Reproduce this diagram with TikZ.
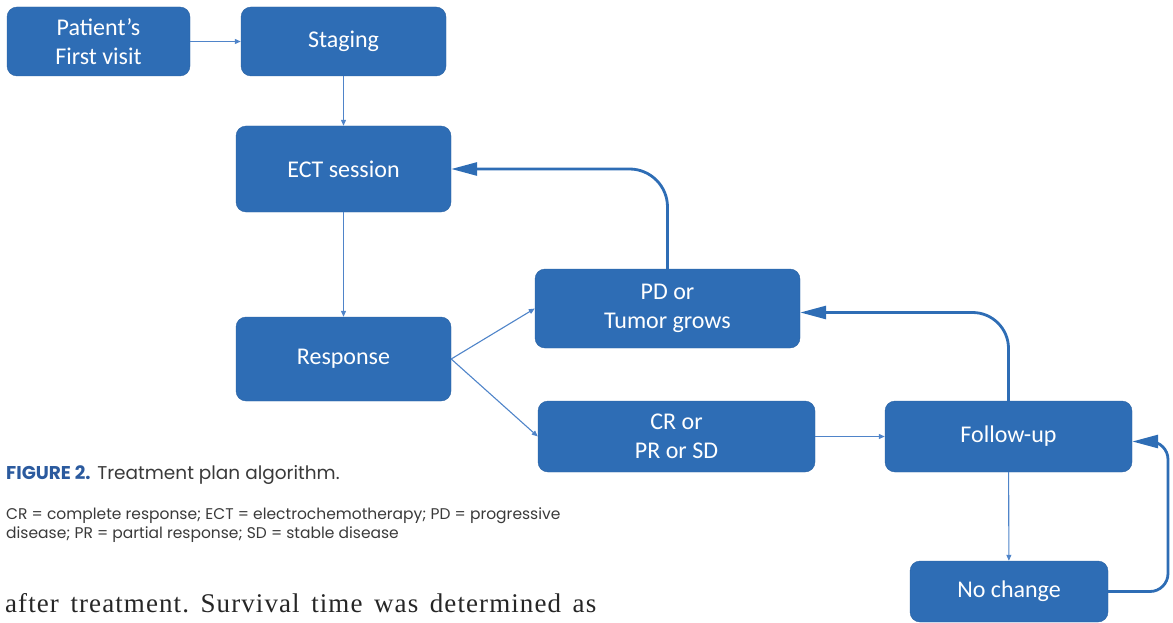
\documentclass[tikz,border=0pt]{standalone}
\usepackage{fontspec}
\setmainfont{Carlito}
\newfontfamily\capfont{Poppins}
\newfontfamily\bodyfont[LetterSpace=4]{Liberation Serif}
\usepackage{tikz}
\usetikzlibrary{arrows.meta, positioning}
\definecolor{boxblue}{HTML}{2E6DB5}
\definecolor{boxedge}{HTML}{2A62A3}
\definecolor{linkblue}{HTML}{4F84C9}
\definecolor{capblue}{HTML}{2B5A9E}
\definecolor{capgray}{HTML}{3A3A3A}
\tikzset{>={Triangle[length=6pt,width=5pt]}}
\tikzset{
	stepbox/.style={draw=boxedge, fill=boxblue, rounded corners=10pt, text=white, align=center,
		font=\fontsize{24}{29}\selectfont, inner sep=0pt},
	link/.style={->, draw=linkblue, line width=1.1pt},
	back/.style={-{Triangle[length=26pt,width=13pt]}, draw=boxblue, line width=2.8pt}
}

\begin{document}
\begin{tikzpicture}[x=1pt, y=-1pt]
	\useasboundingbox (0,0) rectangle (1173,623);

    \node[stepbox, minimum width=183pt, minimum height=69pt]	(first) 	at 	(98.5,41.5)  	{Patient’s\\First visit};
    \node[stepbox, minimum width=205pt, minimum height=69pt]	(staging)	 at 	(343.5,41.5)	 {Staging};
    \node[stepbox, minimum width=215pt, minimum height=86pt]	(ect)	 at 	(343.5,169) 	{ECT session};
    \node[stepbox, minimum width=215pt, minimum height=84pt]	(response)	 at 	(343.5,359)	 {Response};
    \node[stepbox, minimum width=265pt, minimum height=79pt]	(pd)	 at 	(667.5,308.5) 	{PD or\\Tumor grows};
    \node[stepbox, minimum width=277pt, minimum height=71pt]	(crpr)	 at 	(676.5,436.5) 	{CR or\\PR or SD};
    \node[stepbox, minimum width=247pt, minimum height=71pt]	(follow)	 at 	(1008.5,436.5) 	{Follow-up};
    \node[stepbox, minimum width=198pt, minimum height=61pt]	(nochange)	 at 	(1009,591.5) 	{No change};
    \coordinate (loop) at (1168,520);

    \draw[link] (first) -- (staging);
    \draw[link] (staging) -- (ect);
    \draw[link] (ect) -- (response);
    \draw[link] (response.east) -- (pd.west);
    \draw[link] (response.east) -- (crpr.west);
    \draw[link] (crpr) -- (follow);
    \draw[link] (follow) -- (nochange);

    \draw[back, rounded corners=38pt] (pd.north) |- (ect.east);
    \draw[back, rounded corners=36pt] (follow.north) |- ([yshift=-4pt]pd.east);
    \draw[back, rounded corners=18pt] (nochange.east) -| (loop) |- ([yshift=-5pt]follow.east);

    \node[anchor=west, inner sep=0pt, font=\capfont\fontsize{18.5}{22}\selectfont, text=capgray] (caption) at (6,475)
    	{{\bfseries\color{capblue}FIGURE 2.} Treatment plan algorithm.};
    \node[anchor=north west, inner sep=0pt, align=left, font=\capfont\fontsize{15.5}{19}\selectfont, text=capgray] (legend) at (6,508)
    	{CR = complete response; ECT = electrochemotherapy; PD = progressive\\disease; PR = partial response; SD = stable disease};
    \node[anchor=west, inner sep=0pt, font=\bodyfont\fontsize{27}{32}\selectfont, text=black!85] (bodytext) at (5,603)
    	{\frenchspacing\makebox[591pt][s]{after treatment. Survival time was determined as}};
\end{tikzpicture}
\end{document}
